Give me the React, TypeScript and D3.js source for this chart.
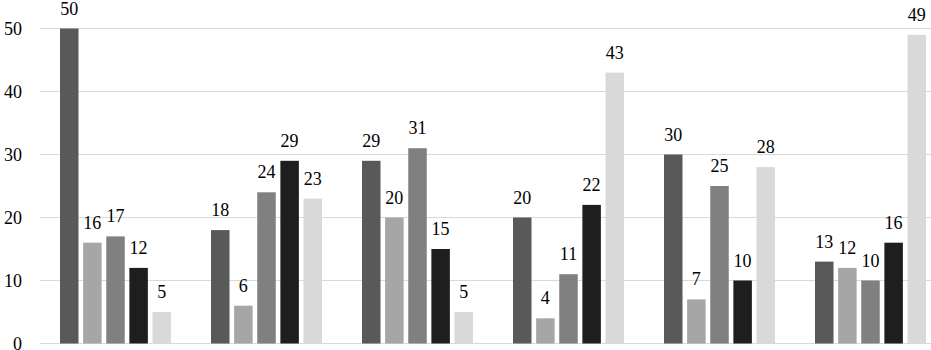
import { useEffect, useRef } from 'react';
import * as d3 from 'd3';

const groups = ['A', 'B', 'C', 'D', 'E', 'F'];
const seriesKeys = ['s1', 's2', 's3', 's4', 's5'];
const seriesColors = ['#595959', '#a6a6a6', '#808080', '#1e1e1e', '#d9d9d9'];
const values = [
  [50, 16, 17, 12, 5],
  [18, 6, 24, 29, 23],
  [29, 20, 31, 15, 5],
  [20, 4, 11, 22, 43],
  [30, 7, 25, 10, 28],
  [13, 12, 10, 16, 49],
];
const yTicks = [0, 10, 20, 30, 40, 50];

export default function App() {
  const svgRef = useRef<SVGSVGElement>(null);

  useEffect(() => {
    const svg = d3.select(svgRef.current);
    svg.selectAll('*').remove();

    const width = 931;
    const height = 350;
    const font = 'Times New Roman, Times, Liberation Serif, DejaVu Serif, Noto Serif, serif';

    const x0 = d3.scaleBand().domain(groups).range([40, 946]).paddingInner(0.265).paddingOuter(0.1325);
    const x1 = d3.scaleBand().domain(seriesKeys).range([0, x0.bandwidth()]).paddingInner(0.2);
    const y = d3.scaleLinear().domain([0, 50]).range([343.5, 28.5]);

    svg.attr('width', width).attr('height', height).attr('viewBox', `0 0 ${width} ${height}`);

    svg.append('g')
      .selectAll('line')
      .data(yTicks)
      .join('line')
      .attr('x1', 40)
      .attr('x2', width)
      .attr('y1', d => y(d))
      .attr('y2', d => y(d))
      .attr('stroke', '#d9d9d9')
      .attr('stroke-width', 1);

    svg.append('g')
      .selectAll('text')
      .data(yTicks)
      .join('text')
      .attr('x', 22)
      .attr('y', d => y(d) + 6)
      .attr('text-anchor', 'end')
      .attr('font-family', font)
      .attr('font-size', 18)
      .attr('fill', '#000')
      .text(d => d);

    const g = svg.append('g')
      .selectAll('g')
      .data(values)
      .join('g')
      .attr('transform', (_, i) => `translate(${x0(groups[i])},0)`);

    g.selectAll('rect')
      .data(d => d.map((v, j) => ({ v, j })))
      .join('rect')
      .attr('x', d => x1(seriesKeys[d.j])!)
      .attr('width', x1.bandwidth())
      .attr('y', d => y(d.v))
      .attr('height', d => y(0) - y(d.v))
      .attr('fill', d => seriesColors[d.j]);

    g.selectAll('text')
      .data(d => d.map((v, j) => ({ v, j })))
      .join('text')
      .attr('x', d => x1(seriesKeys[d.j])! + x1.bandwidth() / 2)
      .attr('y', d => y(d.v) - 14)
      .attr('text-anchor', 'middle')
      .attr('font-family', font)
      .attr('font-size', 18)
      .attr('fill', '#000')
      .text(d => d.v);
  }, []);

  return (
    <svg ref={svgRef} style={{ position: 'absolute', left: 0, top: 0, display: 'block', background: '#fff' }} />
  );
}
